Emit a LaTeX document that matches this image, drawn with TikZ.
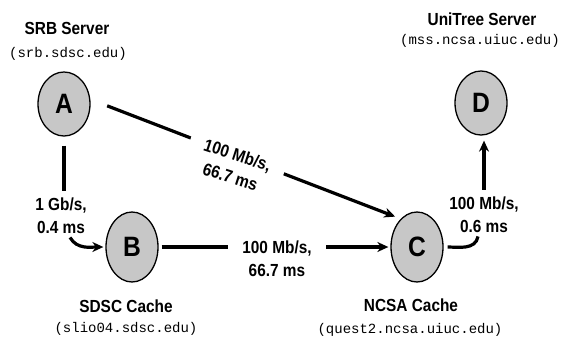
\documentclass[tikz,border=0pt]{standalone}
\usepackage{fontspec}
\newfontfamily\sanslabel[FakeStretch=0.88]{Liberation Sans}
\newfontfamily\hostfont{Liberation Mono}
\usetikzlibrary{shapes,arrows.meta}

\tikzset{
  site/.style={draw, ellipse, line width=1.3pt, fill=black!22, inner sep=0pt,
    minimum width=52pt, minimum height=70pt,
    font=\sanslabel\bfseries\fontsize{28}{28}\selectfont},
  title/.style={font=\sanslabel\bfseries\fontsize{17.5}{17.5}\selectfont, inner sep=0pt},
  host/.style={font=\hostfont\fontsize{14}{14}\selectfont, inner sep=0pt},
  rate/.style={font=\sanslabel\bfseries\fontsize{17.5}{23}\selectfont, align=center},
  link/.style={line width=3.2pt},
  arrowed/.style={-{Stealth[length=11pt,width=10pt]}},
}

\begin{document}
\begin{tikzpicture}[x=1pt,y=1pt]
\useasboundingbox (0,0) rectangle (564,341);

% sites
\node[site, minimum height=64pt] (A) at (64,237) {A};
\node[site] (B) at (132,94) {B};
\node[site] (C) at (417,94) {C};
\node[site, minimum height=64pt] (D) at (481,238) {D};

% names and hosts
\node[title] (Aname) at (67,313) {SRB Server};
\node[host] (Ahost) at (68,287) {(srb.sdsc.edu)};
\node[title] (Dname) at (482,322) {UniTree Server};
\node[host] (Dhost) at (480,300) {(mss.ncsa.uiuc.edu)};
\node[title] (Bname) at (126,35) {SDSC Cache};
\node[host] (Bhost) at (126,12) {(slio04.sdsc.edu)};
\node[title] (Cname) at (411,36) {NCSA Cache};
\node[host] (Chost) at (410,11) {(quest2.ncsa.uiuc.edu)};

% links
\draw[link, arrowed, shorten <=18pt, shorten >=6pt] (A.10) -- (C.120);
\draw[link, arrowed, shorten <=3pt, shorten >=2pt] (B.east) -- (C.west |- B.east);

% link labels
\node[rate] (lblAB) at (61,125) {1 Gb/s,\\0.4 ms};
\node[rate, fill=white, inner xsep=15pt, rotate=-18] (lblAC) at (234,175) {100 Mb/s,\\66.7 ms};
\node[rate, fill=white, inner xsep=14pt] (lblBC) at (277,82) {100 Mb/s,\\66.7 ms};
\node[rate] (lblCD) at (484,126) {100 Mb/s,\\0.6 ms};

\draw[link, shorten <=9pt, shorten >=4pt] (A.south) -- (A.south |- lblAB.north);
\draw[link, arrowed, shorten >=2pt] ([xshift=9pt]lblAB.south) to[out=-60, in=180] (B.west);
\draw[link, shorten <=4pt] (C.east) to[out=0, in=-100] ([xshift=-6pt]lblCD.south);
\draw[link, arrowed, shorten <=4pt, shorten >=5pt] (lblCD.north) -- (lblCD.north |- D.south);
\end{tikzpicture}
\end{document}
